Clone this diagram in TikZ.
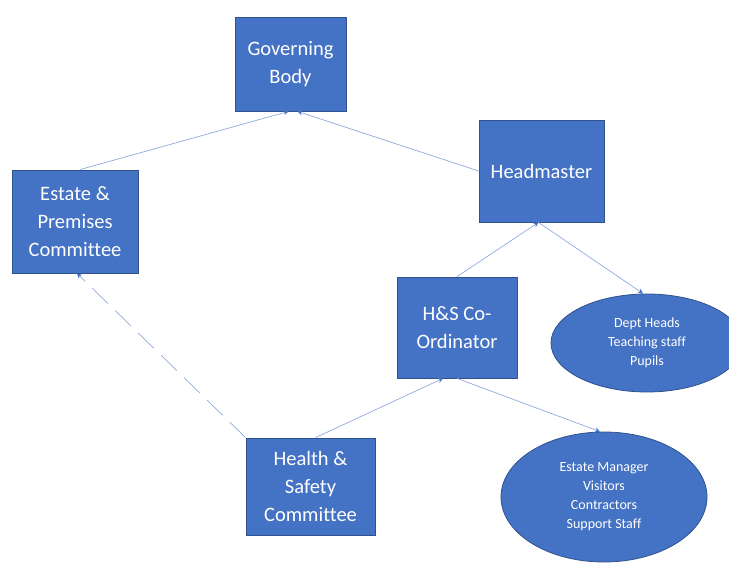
\documentclass[tikz,border=0pt]{standalone}
\usepackage{fontspec}
\setmainfont{Carlito}[Ligatures=NoCommon]
\usepackage{tikz}
\usetikzlibrary{shapes.geometric,arrows.meta,positioning}

\definecolor{boxblue}{HTML}{4472C4}
\definecolor{boxedge}{HTML}{2F528F}
\definecolor{linkblue}{HTML}{8FAADC}
\definecolor{tipblue}{HTML}{4472C4}

\begin{document}
\begin{tikzpicture}[x=1pt, y=1pt, yscale=-1,
  post/.style={draw=boxedge, fill=boxblue, line width=0.8pt, text=white, align=center,
    font=\fontsize{20.5}{28}\selectfont, inner sep=0pt},
  group/.style={ellipse, draw=boxedge, fill=boxblue, line width=0.8pt, text=white, align=center,
    font=\fontsize{14}{19}\selectfont, inner sep=0pt},
  link/.style={draw=linkblue, line width=0.7pt, -{Stealth[length=5pt,width=5pt,color=tipblue]}}]
\useasboundingbox (0,0) rectangle (729,564);
\node[post, minimum width=111pt, minimum height=94pt] (GB) at (290.5,64) {Governing\\Body};
\node[post, minimum width=126pt, minimum height=103pt] (EPC) at (75,221.5) {Estate \&\\Premises\\Committee};
\node[post, minimum width=125pt, minimum height=102pt] (HM) at (541.5,171) {Headmaster};
\node[post, minimum width=120pt, minimum height=101pt] (COORD) at (457,327.5) {H\&S Co-\\Ordinator};
\node[post, minimum width=129pt, minimum height=97pt] (HSC) at (310.5,486.5) {Health \&\\Safety\\Committee};
\node[group, minimum width=192pt, minimum height=98pt] (DEPT) at (647,343) {Dept Heads\\Teaching staff\\Pupils};
\node[group, minimum width=206pt, minimum height=130pt] (STAFF) at (604,497) {Estate Manager\\Visitors\\Contractors\\Support Staff};
% reporting lines
\draw[link] ([xshift=5pt]EPC.north) -- ([xshift=-2pt]GB.south);
\draw[link] (HM.west) -- ([xshift=7pt]GB.south);
\draw[link] (COORD.north) -- ([xshift=-3pt]HM.south);
\draw[link] ([xshift=-3pt]HM.south) -- ([xshift=-4pt]DEPT.north);
\draw[link] ([xshift=5pt]HSC.north) -- ([xshift=-14pt]COORD.south);
\draw[link] (COORD.south) -- ([xshift=-4pt]STAFF.north);
\draw[link, dash pattern=on 22pt off 10pt] (HSC.north west) -- ([xshift=2pt]EPC.south);
\end{tikzpicture}
\end{document}
